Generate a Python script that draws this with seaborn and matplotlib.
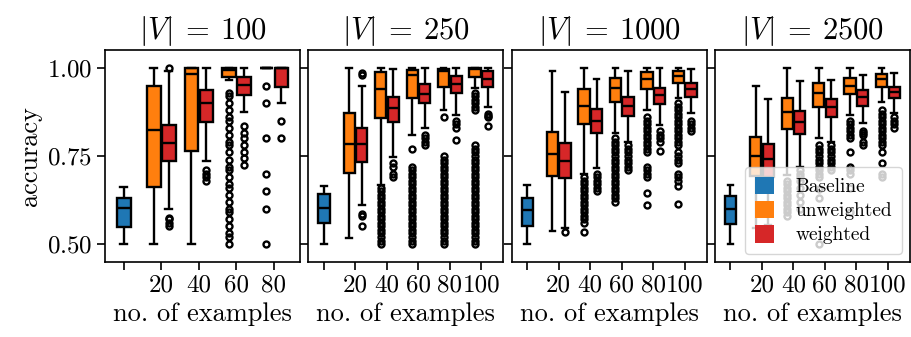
import numpy as np
import pandas as pd
import matplotlib.pyplot as plt
import seaborn as sns
from matplotlib.patches import Patch

# box summaries: (low whisker, q1, median, q3, high whisker)
vocab_sizes = ["100", "250", "1000", "2500"]
v100_examples = ["20", "40", "60", "80"]
big_examples = ["20", "40", "60", "80", "100"]

baseline_stats = [
    (0.50, 0.547, 0.601, 0.630, 0.661),
    (0.50, 0.560, 0.601, 0.641, 0.665),
    (0.50, 0.551, 0.597, 0.632, 0.669),
    (0.50, 0.557, 0.600, 0.635, 0.669),
]

# |V| = 100
v100_unweighted = [
    (0.50, 0.663, 0.825, 0.950, 1.00),
    (0.50, 0.765, 0.983, 1.000, 1.00),
    (0.966, 0.975, 0.993, 1.000, 1.00),
    (1.00, 1.00, 1.00, 1.00, 1.00),
]
v100_unweighted_fliers = [
    [],
    [],
    [0.50, 0.52, 0.53, 0.55, 0.57, 0.59, 0.60, 0.62, 0.64, 0.66, 0.67, 0.69, 0.71,
     0.72, 0.74, 0.76, 0.78, 0.79, 0.81, 0.83, 0.85, 0.86, 0.88, 0.90, 0.92, 0.93],
    [0.50, 0.60, 0.65, 0.70, 0.80, 0.90, 0.95],
]
v100_weighted = [
    (0.60, 0.736, 0.788, 0.838, 0.99),
    (0.735, 0.847, 0.900, 0.936, 1.00),
    (0.875, 0.923, 0.952, 0.975, 1.00),
    (0.90, 0.945, 1.00, 1.00, 1.00),
]
v100_weighted_fliers = [
    [0.55, 0.56, 0.57, 0.575, 1.00],
    [0.68, 0.69, 0.70, 0.71],
    [0.725, 0.745, 0.76, 0.78, 0.80, 0.815, 0.835],
    [0.80, 0.85],
]

# |V| = 250
v250_unweighted = [
    (0.516, 0.703, 0.783, 0.873, 1.00),
    (0.668, 0.857, 0.940, 0.988, 1.00),
    (0.81, 0.916, 0.980, 0.994, 1.00),
    (0.88, 0.947, 0.992, 0.998, 1.00),
    (0.942, 0.974, 0.997, 1.00, 1.00),
]
v250_unweighted_fliers = [
    [],
    [0.50, 0.51, 0.52, 0.53, 0.54, 0.55, 0.56, 0.57, 0.58, 0.59, 0.60, 0.61, 0.62,
     0.63, 0.64, 0.65, 0.66],
    [0.50, 0.51, 0.52, 0.53, 0.54, 0.55, 0.56, 0.57, 0.58, 0.59, 0.60, 0.61, 0.62,
     0.63, 0.64, 0.65, 0.66, 0.67, 0.68, 0.69, 0.70, 0.71, 0.72, 0.77],
    [0.50, 0.51, 0.52, 0.53, 0.54, 0.55, 0.56, 0.57, 0.58, 0.59, 0.60, 0.61, 0.62,
     0.63, 0.64, 0.65, 0.66, 0.67, 0.68, 0.69, 0.70, 0.71, 0.72, 0.73, 0.74, 0.75,
     0.86],
    [0.50, 0.51, 0.52, 0.53, 0.54, 0.55, 0.56, 0.57, 0.58, 0.59, 0.60, 0.61, 0.62,
     0.63, 0.64, 0.65, 0.66, 0.67, 0.68, 0.69, 0.70, 0.71, 0.72, 0.73, 0.74, 0.75,
     0.76, 0.77, 0.78, 0.88, 0.89, 0.90, 0.91, 0.92, 0.93],
]
v250_weighted = [
    (0.61, 0.732, 0.783, 0.829, 0.949),
    (0.748, 0.846, 0.885, 0.918, 0.997),
    (0.83, 0.900, 0.926, 0.954, 1.00),
    (0.866, 0.928, 0.955, 0.977, 1.00),
    (0.89, 0.945, 0.968, 0.990, 1.00),
]
v250_weighted_fliers = [
    [0.55, 0.58, 0.585, 0.98, 0.985],
    [0.69, 0.70, 0.72, 0.73],
    [0.78, 0.79, 0.80, 0.81],
    [0.795, 0.83, 0.84, 0.85],
    [0.835, 0.86, 0.865, 0.87],
]

# |V| = 1000
v1000_unweighted = [
    (0.538, 0.693, 0.755, 0.819, 0.991),
    (0.70, 0.841, 0.892, 0.940, 1.00),
    (0.814, 0.904, 0.944, 0.971, 1.00),
    (0.88, 0.940, 0.968, 0.988, 1.00),
    (0.914, 0.958, 0.977, 0.992, 1.00),
]
v1000_unweighted_fliers = [
    [],
    [0.533, 0.56, 0.57, 0.58, 0.59, 0.60, 0.61, 0.62, 0.63, 0.64, 0.65, 0.66, 0.67,
     0.68, 0.69],
    [0.62, 0.63, 0.64, 0.65, 0.66, 0.67, 0.68, 0.69, 0.70, 0.71, 0.72, 0.73, 0.74,
     0.75, 0.76, 0.77, 0.78, 0.79, 0.80],
    [0.61, 0.645, 0.69, 0.70, 0.71, 0.72, 0.76, 0.77, 0.78, 0.79, 0.80, 0.81, 0.82,
     0.83, 0.84, 0.85, 0.86],
    [0.615, 0.665, 0.68, 0.69, 0.70, 0.73, 0.74, 0.75, 0.76, 0.78, 0.79, 0.80, 0.81,
     0.82, 0.83, 0.84, 0.85, 0.86, 0.87, 0.88, 0.89, 0.90],
]
v1000_weighted = [
    (0.545, 0.687, 0.736, 0.786, 0.933),
    (0.715, 0.814, 0.850, 0.884, 0.969),
    (0.79, 0.864, 0.892, 0.918, 0.992),
    (0.838, 0.897, 0.923, 0.942, 1.00),
    (0.871, 0.918, 0.940, 0.957, 0.997),
]
v1000_weighted_fliers = [
    [0.533],
    [0.65, 0.66, 0.67, 0.68, 0.69, 0.70],
    [0.71, 0.72, 0.73, 0.74, 0.75, 0.76, 0.77, 0.78],
    [0.765, 0.79, 0.80, 0.81, 0.82],
    [0.82, 0.83, 0.84, 0.85],
]

# |V| = 2500
v2500_unweighted = [
    (0.545, 0.693, 0.751, 0.805, 0.95),
    (0.696, 0.826, 0.876, 0.916, 1.00),
    (0.80, 0.888, 0.928, 0.957, 1.00),
    (0.866, 0.925, 0.949, 0.971, 1.00),
    (0.904, 0.945, 0.968, 0.983, 1.00),
]
v2500_unweighted_fliers = [
    [],
    [0.58, 0.59, 0.60, 0.61, 0.62, 0.63, 0.64, 0.65, 0.66, 0.67, 0.68],
    [0.50, 0.63, 0.655, 0.69, 0.70, 0.71, 0.72, 0.73, 0.74, 0.75, 0.76, 0.77, 0.78],
    [0.59, 0.66, 0.70, 0.71, 0.72, 0.76, 0.80, 0.81, 0.82, 0.83, 0.84, 0.85],
    [0.69, 0.70, 0.73, 0.76, 0.78, 0.79, 0.80, 0.81, 0.82, 0.83, 0.84, 0.85, 0.86,
     0.87, 0.88],
]
v2500_weighted = [
    (0.555, 0.690, 0.741, 0.783, 0.911),
    (0.72, 0.812, 0.847, 0.878, 0.963),
    (0.79, 0.862, 0.890, 0.911, 0.966),
    (0.843, 0.892, 0.917, 0.936, 0.98),
    (0.871, 0.914, 0.933, 0.947, 0.987),
]
v2500_weighted_fliers = [
    [0.54],
    [0.60, 0.62, 0.64, 0.66, 0.68, 0.69, 0.70, 0.71],
    [0.71, 0.72, 0.73, 0.74, 0.75, 0.76, 0.77, 0.78],
    [0.78, 0.79, 0.81, 0.815, 0.82],
    [0.83, 0.84, 0.85, 0.86],
]

BLUE, ORANGE, RED = "#1f77b4", "#ff7f0e", "#d62728"


def observations(lo, q1, med, q3, hi, fliers):
    """Raw values whose box plot reproduces the read five-number summary and fliers."""
    low = sorted(f for f in fliers if f < q1)
    high = sorted(f for f in fliers if f > q3)
    k = max(len(low), len(high)) + 1
    return (low + [lo] + [q1] * (k - len(low)) + [med] * k + [q3] * k
            + [q3] * (k - len(high) - 1) + [hi] + high)


panels = [
    (v100_examples, v100_unweighted, v100_unweighted_fliers, v100_weighted, v100_weighted_fliers),
    (big_examples, v250_unweighted, v250_unweighted_fliers, v250_weighted, v250_weighted_fliers),
    (big_examples, v1000_unweighted, v1000_unweighted_fliers, v1000_weighted, v1000_weighted_fliers),
    (big_examples, v2500_unweighted, v2500_unweighted_fliers, v2500_weighted, v2500_weighted_fliers),
]

plt.rcParams.update({
    "font.family": "cmr10",
    "mathtext.fontset": "cm",
    "axes.formatter.use_mathtext": True,
    "axes.linewidth": 1.2,
    "xtick.major.size": 5.5,
    "ytick.major.size": 5.5,
    "xtick.major.width": 1.2,
    "ytick.major.width": 1.2,
})

fig, axes = plt.subplots(1, 4, figsize=(9.11, 3.37), dpi=100, sharey=True)
fig.subplots_adjust(left=105 / 911, right=910 / 911, bottom=75 / 337, top=287 / 337, wspace=0.041)

flier_kws = dict(marker="o", markersize=4.3, markeredgewidth=1.7,
                 markerfacecolor="none", markeredgecolor="black")

for i, (ax, v, (examples, unw, unw_f, wei, wei_f)) in enumerate(zip(axes, vocab_sizes, panels)):
    order = ["0"] + examples
    base = pd.DataFrame({"n": "0", "acc": observations(*baseline_stats[i], [])})
    sns.boxplot(data=base, x="n", y="acc", order=order, color=BLUE, saturation=1,
                width=0.36, linecolor="black", linewidth=1.7, flierprops=flier_kws, ax=ax)

    rows = []
    for n, s, f in zip(examples, unw, unw_f):
        rows += [(n, "unweighted", a) for a in observations(*s, f)]
    for n, s, f in zip(examples, wei, wei_f):
        rows += [(n, "weighted", a) for a in observations(*s, f)]
    df = pd.DataFrame(rows, columns=["n", "method", "acc"])
    sns.boxplot(data=df, x="n", y="acc", hue="method", order=order,
                hue_order=["unweighted", "weighted"], palette=[ORANGE, RED],
                saturation=1, width=0.8, gap=0.1, linecolor="black", linewidth=1.7,
                flierprops=flier_kws, legend=False, ax=ax)

    ax.set_xticks(range(len(order)))
    ax.set_xticklabels([""] + examples)
    ax.set_xlim(-0.5, len(order) - 0.3)
    ax.set_title(rf"$|V|\:=\:{v}$", fontsize=22, pad=8)
    ax.set_xlabel("no. of examples", fontsize=19)
    ax.set_ylabel("accuracy" if i == 0 else "", fontsize=19)
    ax.tick_params(labelsize=18)

axes[0].set_ylim(0.449, 1.051)
axes[0].set_yticks([0.5, 0.75, 1.0])

handles = [Patch(facecolor=c, linewidth=0, label=l)
           for c, l in zip([BLUE, ORANGE, RED], ["Baseline", "unweighted", "weighted"])]
axes[3].legend(handles=handles, loc="lower right", fontsize=14, handlelength=1.0,
               handleheight=1.0, labelspacing=0.25, handletextpad=1.1,
               borderaxespad=0.4, borderpad=0.5)

plt.savefig("out.png", dpi=100)
